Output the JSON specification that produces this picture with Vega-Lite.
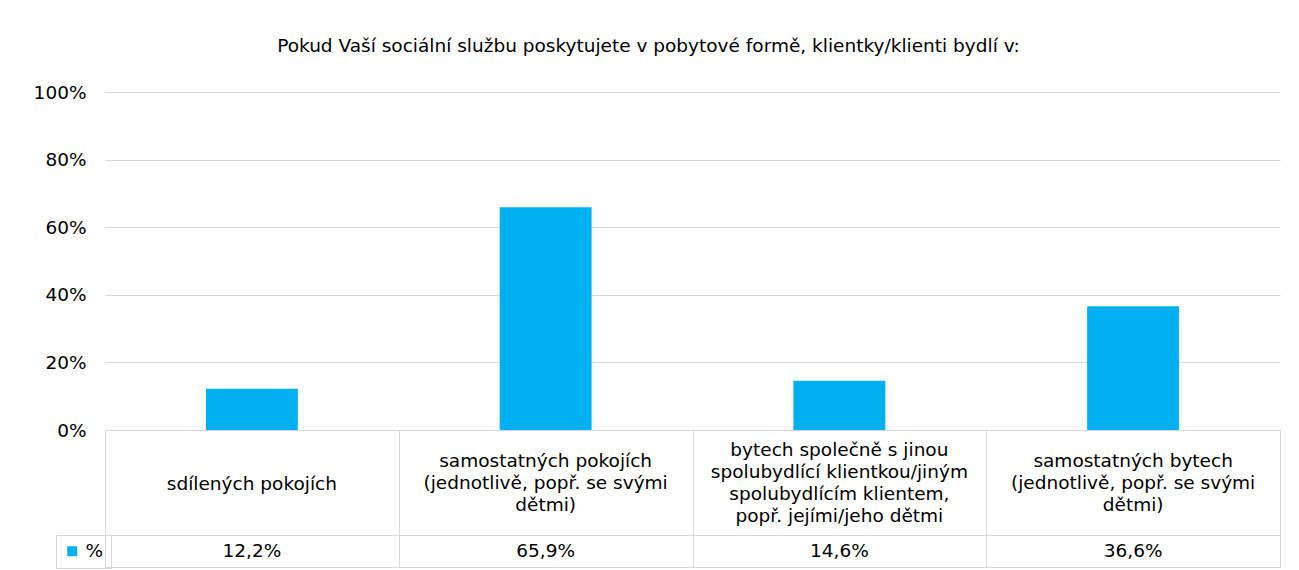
{
  "$schema": "https://vega.github.io/schema/vega-lite/v6.json",
  "padding": {"left": 33, "top": 36, "right": 16, "bottom": 4},
  "background": "#ffffff",
  "config": {
    "font": "DejaVu Sans",
    "locale": {"number": {"decimal": ",", "thousands": " ", "grouping": [3], "currency": ["", " Kč"]}},
    "view": {"stroke": "#d9d9d9", "strokeWidth": 1},
    "axis": {"labelFont": "DejaVu Sans", "labelFontSize": 18.5, "labelColor": "#000000"},
    "title": {"font": "DejaVu Sans", "fontSize": 18.5, "fontWeight": "normal", "color": "#000000"}
  },
  "data": {
    "values": [
      {"kategorie": "sdílených pokojích", "popis": "sdílených pokojích", "serie": "%", "podil": 0.122},
      {"kategorie": "samostatných pokojích", "popis": "samostatných pokojích\n(jednotlivě, popř. se svými\ndětmi)", "serie": "%", "podil": 0.659},
      {"kategorie": "bytech společně", "popis": "bytech společně s jinou\nspolubydlící klientkou/jiným\nspolubydlícím klientem,\npopř. jejími/jeho dětmi", "serie": "%", "podil": 0.146},
      {"kategorie": "samostatných bytech", "popis": "samostatných bytech\n(jednotlivě, popř. se svými\ndětmi)", "serie": "%", "podil": 0.366}
    ]
  },
  "vconcat": [
    {
      "width": 1175,
      "height": 338,
      "view": {"stroke": null},
      "title": {"text": "Pokud Vaší sociální službu poskytujete v pobytové formě, klientky/klienti bydlí v:", "anchor": "middle", "dx": -44, "offset": 28},
      "mark": {"type": "bar", "width": {"band": 0.313}},
      "encoding": {
        "x": {"field": "kategorie", "type": "nominal", "sort": null, "scale": {"domain": ["sdílených pokojích", "samostatných pokojích", "bytech společně", "samostatných bytech"], "paddingInner": 0, "paddingOuter": 0}, "axis": null},
        "y": {"field": "podil", "type": "quantitative", "scale": {"domain": [0, 1], "nice": false},
          "axis": {"title": null, "values": [0, 0.2, 0.4, 0.6, 0.8, 1], "format": ".0%", "domain": false, "ticks": false, "labelPadding": 19, "gridColor": "#d9d9d9", "gridWidth": 1}},
        "color": {"field": "serie", "type": "nominal", "scale": {"range": ["#00B0F0"]},
          "legend": {"title": null, "orient": "none", "legendX": -49, "legendY": 443, "symbolType": "square", "symbolSize": 100, "symbolStrokeWidth": 0, "labelFontSize": 18.5, "labelFont": "DejaVu Sans", "labelColor": "#000000", "labelOffset": 4, "padding": 7, "strokeColor": "#d9d9d9"}}
      }
    },
    {
      "width": 1175,
      "height": 105,
      "encoding": {
        "x": {"field": "kategorie", "type": "nominal", "sort": null, "scale": {"domain": ["sdílených pokojích", "samostatných pokojích", "bytech společně", "samostatných bytech"], "paddingInner": 0, "paddingOuter": 0},
          "axis": {"title": null, "labels": false, "ticks": false, "domain": false, "grid": true, "tickBand": "extent", "gridColor": "#d9d9d9", "gridWidth": 1}},
        "text": {"field": "popis", "type": "nominal"}
      },
      "layer": [
        {
          "transform": [{"filter": "length(split(datum.popis, '\\n')) == 1"}],
          "mark": {"type": "text", "fontSize": 18.5, "lineBreak": "\n", "lineHeight": 22, "baseline": "middle", "align": "center", "color": "#000000", "dy": 1}
        },
        {
          "transform": [{"filter": "length(split(datum.popis, '\\n')) == 3"}],
          "mark": {"type": "text", "fontSize": 18.5, "lineBreak": "\n", "lineHeight": 22, "baseline": "middle", "align": "center", "color": "#000000", "dy": -22}
        },
        {
          "transform": [{"filter": "length(split(datum.popis, '\\n')) == 4"}],
          "mark": {"type": "text", "fontSize": 18.5, "lineBreak": "\n", "lineHeight": 22, "baseline": "middle", "align": "center", "color": "#000000", "dy": -33}
        }
      ]
    },
    {
      "width": 1175,
      "height": 32,
      "mark": {"type": "text", "fontSize": 18.5, "baseline": "middle", "align": "center", "color": "#000000"},
      "encoding": {
        "x": {"field": "kategorie", "type": "nominal", "sort": null, "scale": {"domain": ["sdílených pokojích", "samostatných pokojích", "bytech společně", "samostatných bytech"], "paddingInner": 0, "paddingOuter": 0},
          "axis": {"title": null, "labels": false, "ticks": false, "domain": false, "grid": true, "tickBand": "extent", "gridColor": "#d9d9d9", "gridWidth": 1}},
        "text": {"field": "podil", "type": "quantitative", "format": ".1%"}
      }
    }
  ],
  "spacing": 0,
  "bounds": "flush"
}
